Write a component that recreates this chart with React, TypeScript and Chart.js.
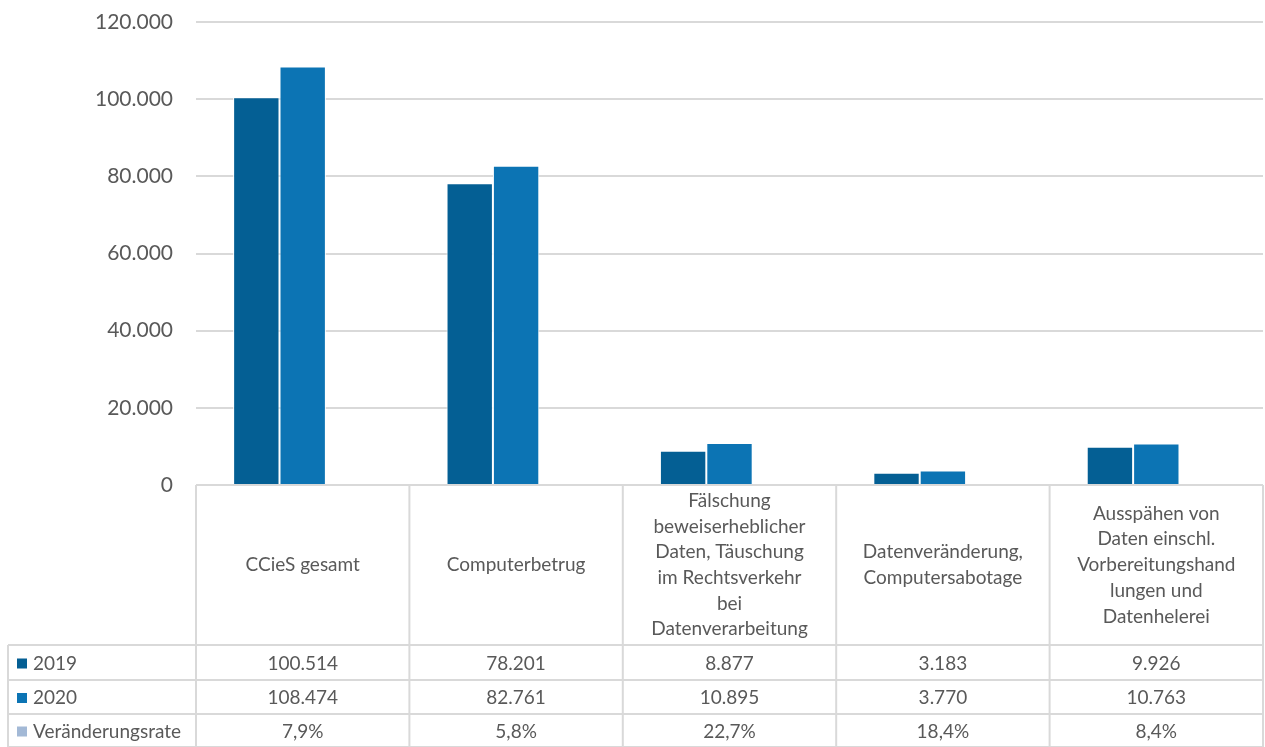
import React, { useEffect, useRef } from "react";
import { Chart, registerables } from "chart.js";

Chart.register(...registerables);

const categories: string[][] = [
  ["CCieS gesamt"],
  ["Computerbetrug"],
  ["Fälschung", "beweiserheblicher", "Daten, Täuschung", "im Rechtsverkehr", "bei", "Datenverarbeitung"],
  ["Datenveränderung,", "Computersabotage"],
  ["Ausspähen von", "Daten einschl.", "Vorbereitungshand", "lungen und", "Datenhelerei"],
];
const seriesNames = ["2019", "2020", "Veränderungsrate"];
const values2019 = [100514, 78201, 8877, 3183, 9926];
const values2020 = [108474, 82761, 10895, 3770, 10763];
const changeRate = [7.9, 5.8, 22.7, 18.4, 8.4];
const yTicks = [0, 20000, 40000, 60000, 80000, 100000, 120000];

const colors = ["#045f94", "#0c74b4", "#a3b9d6"];
const textColor = "#595959";
const lineColor = "#d9d9d9";
const FONT = "Lato, 'Open Sans', sans-serif";

function fmtInt(n: number): string {
  const s = Math.round(n).toString();
  return s.replace(/\B(?=(\d{3})+(?!\d))/g, ".");
}
function fmtPct(n: number): string {
  return n.toFixed(1).replace(".", ",") + "%";
}

const tablePlugin = {
  id: "dataTable",
  afterDraw(chart: any) {
    const ctx = chart.ctx as CanvasRenderingContext2D;
    const area = chart.chartArea;
    const xs = chart.scales.x;
    const n = categories.length;
    const colW = (area.right - area.left) / n;
    const top = area.bottom;
    const headBottom = 645;
    const rowH = [645, 680, 714, 747];
    const leftEdge = 8;
    ctx.save();
    ctx.strokeStyle = lineColor;
    ctx.lineWidth = 2;
    ctx.beginPath();
    ctx.moveTo(area.left, top);
    ctx.lineTo(area.right, top);
    for (let i = 0; i < rowH.length; i++) {
      ctx.moveTo(leftEdge, rowH[i]);
      ctx.lineTo(area.right, rowH[i]);
    }
    for (let i = 0; i <= n; i++) {
      const x = area.left + i * colW;
      ctx.moveTo(x, top);
      ctx.lineTo(x, 747);
    }
    ctx.moveTo(leftEdge, headBottom);
    ctx.lineTo(leftEdge, 747);
    ctx.stroke();

    ctx.fillStyle = textColor;
    ctx.textAlign = "center";
    ctx.textBaseline = "middle";
    ctx.font = `19px ${FONT}`;
    const lh = 25.7;
    const headMid = (top + headBottom) / 2;
    for (let i = 0; i < n; i++) {
      const cx = xs.getPixelForValue(i);
      const lines = categories[i];
      const start = headMid - ((lines.length - 1) * lh) / 2;
      lines.forEach((ln, j) => ctx.fillText(ln, cx, start + j * lh));
    }
    const rows: string[][] = [
      values2019.map(fmtInt),
      values2020.map(fmtInt),
      changeRate.map(fmtPct),
    ];
    for (let r = 0; r < 3; r++) {
      const cy = (rowH[r] + rowH[r + 1]) / 2 + 1;
      ctx.textAlign = "center";
      for (let i = 0; i < n; i++) {
        ctx.fillText(rows[r][i], xs.getPixelForValue(i), cy);
      }
      ctx.fillStyle = colors[r];
      ctx.fillRect(17, cy - 5, 10, 10);
      ctx.fillStyle = textColor;
      ctx.textAlign = "left";
      ctx.fillText(seriesNames[r], 33, cy);
    }
    ctx.restore();
  },
};

export default function App() {
  const ref = useRef<HTMLCanvasElement | null>(null);
  useEffect(() => {
    if (!ref.current) return;
    const chart = new Chart(ref.current, {
      type: "bar",
      data: {
        labels: categories.map((c) => c.join(" ")),
        datasets: [
          { label: seriesNames[0], data: values2019, backgroundColor: colors[0], borderColor: "#ffffff", borderWidth: 1 },
          { label: seriesNames[1], data: values2020, backgroundColor: colors[1], borderColor: "#ffffff", borderWidth: 1 },
          { label: seriesNames[2], data: changeRate, backgroundColor: colors[2], borderColor: colors[2], borderWidth: 0 },
        ],
      },
      options: {
        animation: false,
        responsive: true,
        maintainAspectRatio: false,
        layout: { padding: { top: 22, bottom: 262, left: 0, right: 2 } },
        plugins: { legend: { display: false }, tooltip: { enabled: false } },
        datasets: { bar: { categoryPercentage: 0.652, barPercentage: 1.0 } },
        scales: {
          x: { display: false },
          y: {
            min: 0,
            max: 120000,
            afterBuildTicks: (s: any) => {
              s.ticks = yTicks.map((v) => ({ value: v }));
            },
            afterFit: (s: any) => {
              s.width = 196;
              s.paddingTop = 0;
              s.paddingBottom = 0;
            },
            border: { display: false },
            grid: { color: lineColor, lineWidth: 2, drawTicks: false },
            ticks: {
              padding: 23,
              color: textColor,
              font: { family: FONT, size: 21 },
              callback: (v: any) => fmtInt(Number(v)),
            },
          },
        },
      },
      plugins: [tablePlugin],
    });
    return () => chart.destroy();
  }, []);
  return (
    <div style={{ position: "absolute", left: 0, top: 0, width: 1265, height: 747, background: "#fff" }}>
      <canvas ref={ref} />
    </div>
  );
}
